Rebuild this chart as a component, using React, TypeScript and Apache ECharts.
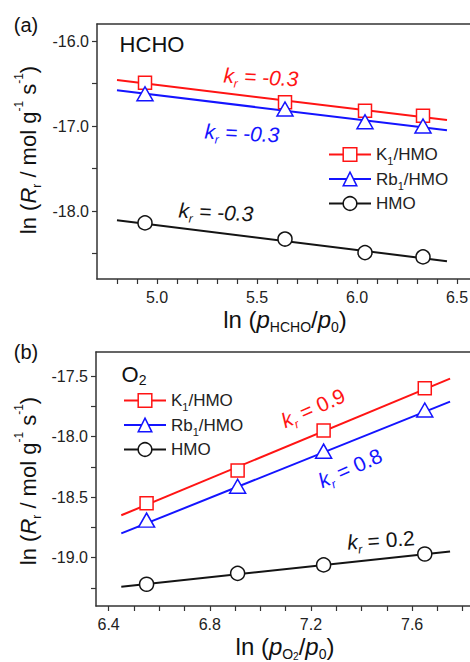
import React, { useEffect, useRef } from 'react';
import * as echarts from 'echarts';

const FONT = 'Arial, "Liberation Sans", sans-serif';

const legendNames = ['K1/HMO', 'Rb1/HMO', 'HMO'];
const colors = ['#ff1414', '#1414ff', '#141414'];
const symbols = ['rect', 'triangle', 'circle'];
const symbolSizes: any[] = [13, [16, 14], 14];

// Panel (a) HCHO
const xA = [4.94, 5.64, 6.04, 6.33];
const aK1 = [-16.49, -16.72, -16.82, -16.88];
const aRb1 = [-16.62, -16.8, -16.95, -17.0];
const aHMO = [-18.14, -18.33, -18.49, -18.54];
const fitXA = [4.8, 6.45];
const aK1Fit = [-16.46, -16.93];
const aRb1Fit = [-16.58, -17.05];
const aHMOFit = [-18.11, -18.59];
const xLabelsA = [5.0, 5.5, 6.0, 6.5];
const xTicksA = [4.8, 4.9, 5.0, 5.1, 5.2, 5.3, 5.4, 5.5, 5.6, 5.7, 5.8, 5.9, 6.0, 6.1, 6.2, 6.3, 6.4, 6.5];
const yLabelsA = [-16.0, -17.0, -18.0];
const yTicksA = [-16.0, -16.5, -17.0, -17.5, -18.0, -18.5];

// Panel (b) O2
const xB = [6.55, 6.91, 7.25, 7.65];
const bK1 = [-18.55, -18.28, -17.95, -17.6];
const bRb1 = [-18.69, -18.41, -18.12, -17.78];
const bHMO = [-19.22, -19.13, -19.06, -18.97];
const fitXB = [6.45, 7.75];
const bK1Fit = [-18.65, -17.52];
const bRb1Fit = [-18.8, -17.71];
const bHMOFit = [-19.24, -18.95];
const xLabelsB = [6.4, 6.8, 7.2, 7.6];
const xTicksB = [6.4, 6.5, 6.6, 6.7, 6.8, 6.9, 7.0, 7.1, 7.2, 7.3, 7.4, 7.5, 7.6, 7.7, 7.8];
const yLabelsB = [-17.5, -18.0, -18.5, -19.0];
const yTicksB = [-17.5, -17.75, -18.0, -18.25, -18.5, -18.75, -19.0, -19.25];

const axisColor = '#333';
const labelColor = '#222';

function xAxisCfg(gridIndex: number, min: number, max: number, ticks: number[], labels: number[]) {
  return {
    type: 'value', gridIndex, min, max, position: 'bottom',
    axisLine: { show: true, onZero: false, lineStyle: { color: axisColor, width: 1.5 } },
    axisTick: { show: true, customValues: ticks, length: 5, inside: false, lineStyle: { color: axisColor, width: 1.2 } },
    axisLabel: { customValues: labels, formatter: (v: number) => v.toFixed(1), fontSize: 16, color: labelColor, margin: 10, fontFamily: FONT },
    splitLine: { show: false },
  };
}
function topAxisCfg(gridIndex: number, min: number, max: number) {
  return {
    type: 'value', gridIndex, min, max, position: 'top',
    axisLine: { show: true, onZero: false, lineStyle: { color: axisColor, width: 1.5 } },
    axisTick: { show: false },
    axisLabel: { show: false },
    splitLine: { show: false },
  };
}
function yAxisCfg(gridIndex: number, min: number, max: number, ticks: number[], labels: number[]) {
  return {
    type: 'value', gridIndex, min, max,
    axisLine: { show: true, onZero: false, lineStyle: { color: axisColor, width: 1.5 } },
    axisTick: { show: true, customValues: ticks, length: 5, inside: false, lineStyle: { color: axisColor, width: 1.2 } },
    axisLabel: { customValues: labels, formatter: (v: number) => v.toFixed(1), fontSize: 16, color: labelColor, margin: 8, fontFamily: FONT },
    splitLine: { show: false },
  };
}

function pair(xs: number[], ys: number[]) {
  return xs.map((x, i) => [x, ys[i]]);
}

function panelSeries(idx: number, xs: number[], sets: number[][], fitX: number[], fits: number[][]) {
  const out: any[] = [];
  sets.forEach((ys, i) => {
    out.push({
      type: 'line', name: 'fit' + idx + '_' + i, xAxisIndex: idx, yAxisIndex: idx,
      data: pair(fitX, fits[i]), symbol: 'none', z: 2,
      lineStyle: { color: colors[i], width: 2 },
    });
    out.push({
      type: 'line', name: legendNames[i], xAxisIndex: idx, yAxisIndex: idx,
      data: pair(xs, ys), symbol: symbols[i], symbolSize: symbolSizes[i], z: 3,
      showSymbol: true,
      lineStyle: { opacity: 0, width: 0 },
      itemStyle: { color: '#ffffff', borderColor: colors[i], borderWidth: 1.5 },
    });
  });
  return out;
}

function legendCfg(left: number, top: number) {
  return {
    left, top, orient: 'vertical', itemWidth: 42, itemHeight: 17, itemGap: 4,
    selectedMode: false,
    data: legendNames.map((n, i) => ({
      name: n,
      itemStyle: { color: '#ffffff', borderColor: colors[i], borderWidth: 1.5 },
      lineStyle: { color: colors[i], width: 2, opacity: 1 },
    })),
    formatter: (name: string) => {
      const m = name.match(/^([A-Za-z]+)1\/(.*)$/);
      if (m) return '{n|' + m[1] + '}{s|1}{n|/' + m[2] + '}';
      return '{n|' + name + '}';
    },
    textStyle: {
      fontFamily: FONT, fontSize: 17, color: labelColor,
      rich: {
        n: { fontFamily: FONT, fontSize: 17, lineHeight: 24, color: labelColor },
        s: { fontFamily: FONT, fontSize: 11, lineHeight: 11, verticalAlign: 'bottom', color: labelColor },
      },
    },
  };
}

function richText(x: number, y: number, text: string, rich: any, rotation = 0) {
  return {
    type: 'text', x, y, rotation, z: 10,
    style: { text, rich, align: 'center', verticalAlign: 'middle', fontFamily: FONT, fontSize: 20, fill: '#111' },
  };
}

function krRich(color: string, italicAll: boolean) {
  return {
    k: { fontFamily: FONT, fontSize: 21, fontStyle: 'italic', fill: color, lineHeight: 28 },
    r: { fontFamily: FONT, fontSize: 12, fontStyle: 'italic', fill: color, lineHeight: 12, verticalAlign: 'bottom' },
    t: { fontFamily: FONT, fontSize: 21, fontStyle: italicAll ? 'italic' : 'normal', fill: color, lineHeight: 28 },
  };
}

const yTitleRich = {
  n: { fontFamily: FONT, fontSize: 22, fill: '#111', lineHeight: 30 },
  i: { fontFamily: FONT, fontSize: 22, fontStyle: 'italic', fill: '#111', lineHeight: 30 },
  sub: { fontFamily: FONT, fontSize: 12, fill: '#111', lineHeight: 12, verticalAlign: 'bottom' },
  sup: { fontFamily: FONT, fontSize: 12, fill: '#111', lineHeight: 12, verticalAlign: 'top' },
};
const xTitleRich = {
  n: { fontFamily: FONT, fontSize: 24, fill: '#111', lineHeight: 30 },
  i: { fontFamily: FONT, fontSize: 24, fontStyle: 'italic', fill: '#111', lineHeight: 30 },
  sub: { fontFamily: FONT, fontSize: 14, fill: '#111', lineHeight: 12, verticalAlign: 'bottom' },
  subs: { fontFamily: FONT, fontSize: 10, fill: '#111', lineHeight: 12, verticalAlign: 'bottom' },
};

const D = Math.PI / 180;

export default function App() {
  const ref = useRef<HTMLDivElement>(null);
  useEffect(() => {
    if (!ref.current) return;
    const chart = echarts.init(ref.current, null, { renderer: 'svg' });
    const option: any = {
      animation: false,
      backgroundColor: '#ffffff',
      textStyle: { fontFamily: FONT },
      grid: [
        { left: 97, top: 24, width: 380, height: 255, show: false, outerBoundsMode: 'none', containLabel: false },
        { left: 96, top: 352, width: 392, height: 254, show: false, outerBoundsMode: 'none', containLabel: false },
      ],
      xAxis: [
        xAxisCfg(0, 4.7, 6.6, xTicksA, xLabelsA),
        xAxisCfg(1, 6.35, 7.9, xTicksB, xLabelsB),
        topAxisCfg(0, 4.7, 6.6),
        topAxisCfg(1, 6.35, 7.9),
      ],
      yAxis: [
        yAxisCfg(0, -18.8, -15.8, yTicksA, yLabelsA),
        yAxisCfg(1, -19.4, -17.3, yTicksB, yLabelsB),
      ],
      legend: [legendCfg(323, 141), legendCfg(118, 387)],
      series: [
        ...panelSeries(0, xA, [aK1, aRb1, aHMO], fitXA, [aK1Fit, aRb1Fit, aHMOFit]),
        ...panelSeries(1, xB, [bK1, bRb1, bHMO], fitXB, [bK1Fit, bRb1Fit, bHMOFit]),
      ],
      graphic: [
        richText(26, 25, '{n|(a)}', { n: { fontFamily: FONT, fontSize: 20, fill: '#111' } }),
        richText(26, 352, '{n|(b)}', { n: { fontFamily: FONT, fontSize: 20, fill: '#111' } }),
        richText(152, 44, '{n|HCHO}', { n: { fontFamily: FONT, fontSize: 22, fill: '#111' } }),
        richText(134, 374, '{n|O}{s|2}', {
          n: { fontFamily: FONT, fontSize: 22, fill: '#111', lineHeight: 26 },
          s: { fontFamily: FONT, fontSize: 14, fill: '#111', lineHeight: 20, verticalAlign: 'bottom' },
        }),
        richText(261, 77, '{k|k}{r|r}{t| = -0.3}', krRich(colors[0], true), -3 * D),
        richText(242, 133, '{k|k}{r|r}{t| = -0.3}', krRich(colors[1], true), -3 * D),
        richText(216, 212, '{k|k}{r|r}{t| = -0.3}', krRich(colors[2], true), -3 * D),
        richText(313, 408, '{k|k}{r|r}{t| = 0.9}', krRich(colors[0], false), 24 * D),
        richText(350, 468, '{k|k}{r|r}{t| = 0.8}', krRich(colors[1], false), 24 * D),
        richText(381, 540, '{k|k}{r|r}{t| = 0.2}', krRich(colors[2], false), 4 * D),
        richText(28, 150, '{n|ln (}{i|R}{sub|r}{n| / mol g}{sup|-1}{n| s}{sup|-1}{n|)}', yTitleRich, 90 * D),
        richText(28, 481, '{n|ln (}{i|R}{sub|r}{n| / mol g}{sup|-1}{n| s}{sup|-1}{n|)}', yTitleRich, 90 * D),
        richText(285, 319, '{n|ln (}{i|p}{sub|HCHO}{n|/}{i|p}{sub|0}{n|)}', xTitleRich),
        richText(285, 646, '{n|ln (}{i|p}{sub|O}{subs|2}{n|/}{i|p}{sub|0}{n|)}', xTitleRich),
      ],
    };
    chart.setOption(option);
    return () => chart.dispose();
  }, []);
  return <div ref={ref} style={{ position: 'fixed', left: 0, top: 0, width: 470, height: 662, background: '#fff' }} />;
}
